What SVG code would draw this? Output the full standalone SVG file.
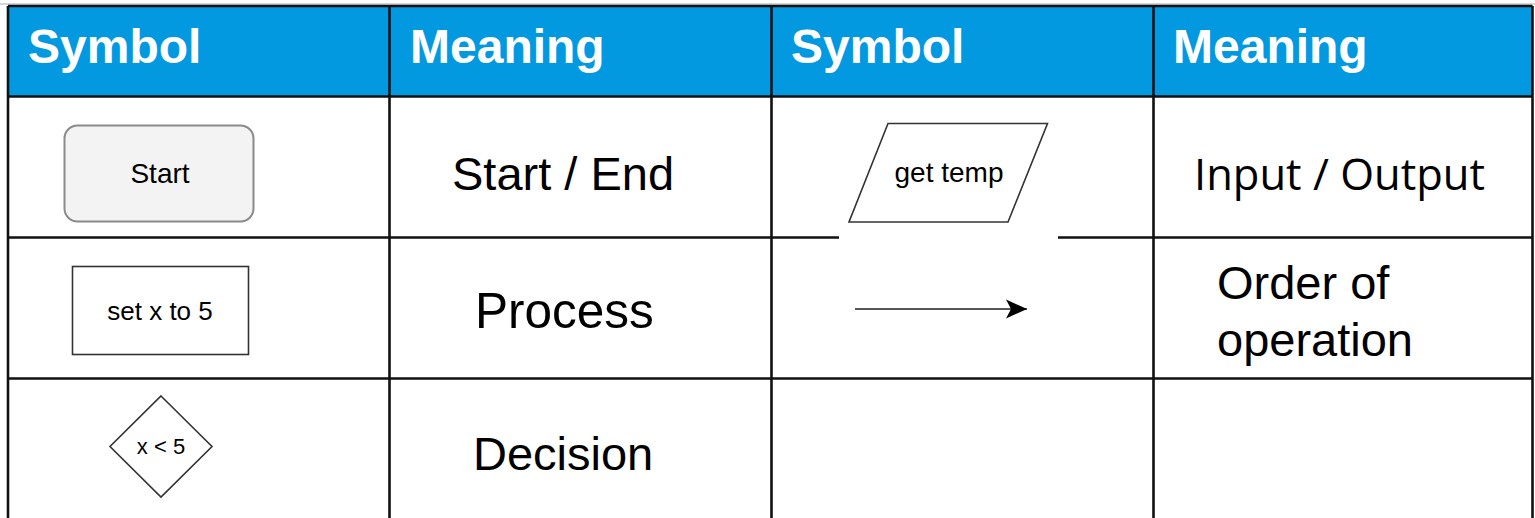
<svg xmlns="http://www.w3.org/2000/svg" width="1535" height="518" viewBox="0 0 1535 518">
  <style>
    .hdr { font-family: "Liberation Sans", Arial, sans-serif; font-weight: bold; font-size: 48px; fill: #ffffff; }
    .cell { font-family: "Liberation Sans", Arial, sans-serif; font-size: 47px; fill: #000000; }
    .cell2 { font-family: "Open Sans", "Noto Sans", sans-serif; font-size: 43.5px; fill: #000000; }
    .sym { font-family: "Liberation Sans", Arial, sans-serif; fill: #000000; text-anchor: middle; }
    .grid { stroke: #111111; stroke-width: 2.6; fill: none; }
    .shape { stroke: #333333; stroke-width: 1.6; fill: #ffffff; }
  </style>
  <defs>
    <marker id="arrowhead" markerWidth="26" markerHeight="26" refX="21" refY="10" orient="auto" markerUnits="userSpaceOnUse">
      <path d="M0,0.5 L21,10 L0,19.5 L5,10 Z" fill="#000000"/>
    </marker>
  </defs>

  <rect width="1535" height="518" fill="#ffffff"/>

  <!-- table frame -->
  <g id="table">
    <line x1="0" y1="4" x2="1535" y2="4" stroke="#c8c8c8" stroke-width="1.5"/>
    <rect x="8" y="6" width="1524.5" height="90" fill="#0399e1"/>
    <g class="grid">
      <line x1="8" y1="6" x2="1532.5" y2="6"/>
      <line x1="8" y1="96.5" x2="1532.5" y2="96.5"/>
      <line x1="8" y1="237.5" x2="839" y2="237.5"/>
      <line x1="1058" y1="237.5" x2="1532.5" y2="237.5"/>
      <line x1="8" y1="378.5" x2="1532.5" y2="378.5"/>
      <line x1="8" y1="6" x2="8" y2="518"/>
      <line x1="389.5" y1="6" x2="389.5" y2="518"/>
      <line x1="771.5" y1="6" x2="771.5" y2="518"/>
      <line x1="1153.5" y1="6" x2="1153.5" y2="518"/>
      <line x1="1532.5" y1="6" x2="1532.5" y2="518"/>
    </g>
    <text class="hdr" x="28" y="63">Symbol</text>
    <text class="hdr" x="410" y="63">Meaning</text>
    <text class="hdr" x="791" y="63">Symbol</text>
    <text class="hdr" x="1173" y="63">Meaning</text>
  </g>

  <!-- terminator -->
  <g id="start-end">
    <rect x="64.5" y="125.5" width="189" height="96" rx="13" ry="13" fill="#f3f3f3" stroke="#8a8a8a" stroke-width="2"/>
    <text class="sym" x="160" y="183" font-size="28">Start</text>
    <text class="cell" x="452" y="190">Start / End</text>
  </g>

  <!-- data input/output -->
  <g id="input-output">
    <polygon class="shape" points="888,123.5 1047.5,123.5 1008,222 849,222"/>
    <text class="sym" x="949" y="182" font-size="28">get temp</text>
    <text class="cell2" x="1194" y="190">Input / Output</text>
  </g>

  <!-- process -->
  <g id="process">
    <rect class="shape" x="72.5" y="266.5" width="176" height="88"/>
    <text class="sym" x="160" y="320" font-size="26">set x to 5</text>
    <text class="cell" x="475" y="328" style="font-size:49.5px">Process</text>
  </g>

  <!-- flow line -->
  <g id="connectors">
    <line x1="855" y1="309" x2="1027" y2="309" stroke="#555555" stroke-width="2.2" marker-end="url(#arrowhead)"/>
  </g>
  <g id="order-of-operation">
    <text class="cell" x="1217" y="299">Order of</text>
    <text class="cell" x="1217" y="356">operation</text>
  </g>

  <!-- decision -->
  <g id="decision">
    <polygon class="shape" points="161,396 212,446.5 161,497 110,446.5"/>
    <text class="sym" x="161" y="454" font-size="22">x &lt; 5</text>
    <text class="cell" x="473" y="470">Decision</text>
  </g>
</svg>
